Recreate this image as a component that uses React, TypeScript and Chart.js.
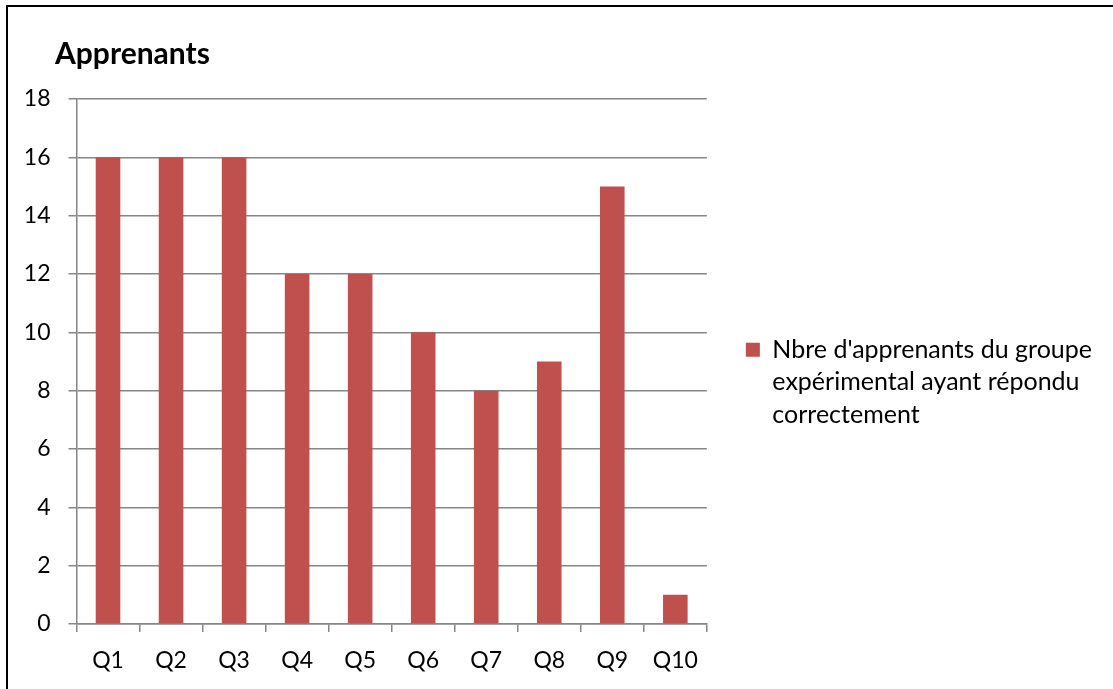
import React, { useEffect, useRef } from 'react';
import { Chart, registerables } from 'chart.js';

Chart.register(...registerables);

const categories = ['Q1', 'Q2', 'Q3', 'Q4', 'Q5', 'Q6', 'Q7', 'Q8', 'Q9', 'Q10'];
const values = [16, 16, 16, 12, 12, 10, 8, 9, 15, 1];
const seriesLabel = "Nbre d'apprenants du groupe expérimental ayant répondu correctement";
const legendLines = ["Nbre d'apprenants du groupe", 'expérimental ayant répondu', 'correctement'];
const chartTitle = 'Apprenants';
const yMin = 0;
const yMax = 18;
const yStep = 2;

const FONT = 'Lato, "Open Sans", "Liberation Sans", sans-serif';

const titleShift = {
  id: 'titleShift',
  afterLayout(chart: any) {
    if (chart.titleBlock) chart.titleBlock.left = 55;
  },
};

export default function App() {
  const canvasRef = useRef<HTMLCanvasElement | null>(null);

  useEffect(() => {
    const canvas = canvasRef.current;
    if (!canvas) return;
    const chart = new Chart(canvas, {
      type: 'bar',
      data: {
        labels: categories,
        datasets: [
          {
            label: seriesLabel,
            data: values,
            backgroundColor: '#C0504D',
            borderWidth: 0,
            barPercentage: 0.39,
            categoryPercentage: 1,
          },
        ],
      },
      plugins: [titleShift],
      options: {
        responsive: false,
        animation: false,
        layout: { padding: { left: 20, top: 10, right: 11, bottom: 5 } },
        plugins: {
          title: {
            display: true,
            text: chartTitle,
            align: 'start',
            color: '#000',
            font: { family: FONT, size: 30, weight: 'bold', lineHeight: 1.2 },
            padding: { top: 26, bottom: 27 },
          },
          legend: {
            position: 'right',
            align: 'center',
            maxWidth: 420,
            title: { display: true, text: ' ', font: { size: 10, lineHeight: 1 }, padding: { top: 68, bottom: 0 } },
            labels: {
              color: '#000',
              boxWidth: 14,
              boxHeight: 14,
              padding: 39,
              font: { family: FONT, size: 25, lineHeight: 1.3 },
              generateLabels: (chart: any) => {
                const items = Chart.defaults.plugins.legend.labels.generateLabels(chart);
                items.forEach((it: any) => {
                  it.text = legendLines;
                  it.lineWidth = 0;
                });
                return items;
              },
            },
          },
          tooltip: { enabled: false },
        },
        scales: {
          x: {
            offset: true,
            afterFit: (scale: any) => {
              scale.height = 60;
            },
            grid: {
              offset: true,
              drawOnChartArea: false,
              drawTicks: true,
              tickLength: 8,
              color: '#868686',
              lineWidth: 1.5,
            },
            border: { display: true, color: '#868686', width: 1.5 },
            ticks: {
              color: '#000',
              padding: 15,
              maxRotation: 0,
              font: { family: FONT, size: 23 },
            },
          },
          y: {
            min: yMin,
            max: yMax,
            afterFit: (scale: any) => {
              scale.width = 56.5;
            },
            grid: {
              drawOnChartArea: true,
              drawTicks: true,
              tickLength: 8,
              color: '#868686',
              lineWidth: 1.5,
            },
            border: { display: true, color: '#868686', width: 1.5 },
            ticks: {
              stepSize: yStep,
              color: '#000',
              padding: 18,
              font: { family: FONT, size: 23 },
            },
          },
        },
      },
    });
    return () => chart.destroy();
  }, []);

  return (
    <div
      style={{
        position: 'fixed',
        left: 0,
        top: 0,
        width: 1113,
        height: 689,
        background: '#fff',
        overflow: 'hidden',
      }}
    >
      <div
        style={{
          position: 'absolute',
          left: 6,
          top: 5,
          right: -10,
          bottom: -10,
          borderTop: '2px solid #000',
          borderLeft: '2px solid #000',
        }}
      />
      <canvas
        ref={canvasRef}
        width={1113}
        height={689}
        style={{ position: 'absolute', left: 0, top: 0, width: 1113, height: 689 }}
      />
    </div>
  );
}
